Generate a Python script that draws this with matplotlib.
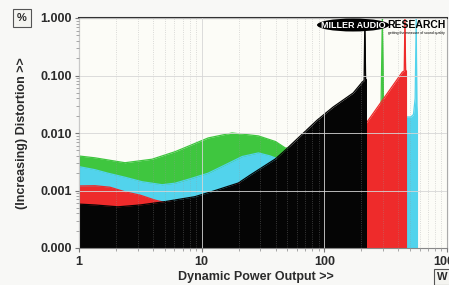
import matplotlib
matplotlib.use('Agg')
import matplotlib.pyplot as plt
from matplotlib.ticker import FixedLocator, FixedFormatter, NullFormatter
from matplotlib.patches import Ellipse

plt.rcParams['font.family'] = ['Liberation Sans', 'DejaVu Sans']

# ---------------- data ----------------
black_x = [1, 1.35, 2.08, 3.15, 5.0, 8.8, 12.9, 19.9, 24.9, 39.8, 46.3, 87.6, 118, 172, 204, 211, 214, 217, 220, 220]
black_y = [0.00058, 0.00056, 0.00052, 0.00056, 0.00064, 0.00078, 0.001, 0.00135, 0.00186, 0.00353, 0.00468,
           0.0168, 0.0283, 0.0497, 0.077, 0.082, 1.0, 0.085, 0.085, 1e-4]

red_x = [1, 1.35, 1.79, 2.37, 3.15, 4.17, 5.0, 10, 50, 150, 219, 220, 433, 448, 454, 460, 467, 467]
red_y = [0.0012, 0.00121, 0.00114, 0.00095, 0.00083, 0.00068, 0.00062, 0.0007, 0.003, 0.012, 0.014,
         0.0149, 0.115, 0.12, 1.0, 0.12, 0.12, 1e-4]

green_x = [1, 1.35, 2.37, 3.94, 6.07, 11.3, 17.7, 29, 40, 48, 100, 200, 290, 297, 304, 400, 465, 465]
green_y = [0.00398, 0.0037, 0.00304, 0.0035, 0.00473, 0.0082, 0.01, 0.0089, 0.0071, 0.0055, 0.005, 0.01,
           0.03, 1.0, 0.03, 0.03, 0.03, 1e-4]

cyan_x = [1, 1.35, 1.72, 2.37, 3.27, 4.76, 6.07, 8.06, 11.3, 15.6, 21.4, 29, 36, 44, 100, 300, 467,
          507, 533, 550, 561, 568, 574, 574]
cyan_y = [0.0026, 0.0023, 0.002, 0.0017, 0.00142, 0.00126, 0.00134, 0.0016, 0.002, 0.0028, 0.0039, 0.0045,
          0.004, 0.0034, 0.005, 0.01, 0.019, 0.019, 0.021, 0.04, 1.0, 0.03, 0.02, 1e-4]

y_ticks = [1e-4, 1e-3, 1e-2, 1e-1, 1.0]
y_tick_labels = ['0.000', '0.001', '0.010', '0.100', '1.000']
x_ticks = [1, 10, 100, 1000]
x_tick_labels = ['1', '10', '100', '1000']

GREEN = '#3fc63f'
CYAN = '#52d3ec'
RED = '#ee2b2b'
BLACK = '#050505'
TXT = '#2b2b2b'

# ---------------- figure ----------------
W, H = 449, 285
fig = plt.figure(figsize=(W / 100, H / 100), dpi=100, facecolor='#f8f8f6')
ax = fig.add_axes([79 / W, 1 - 248 / H, (447 - 79) / W, (248 - 18) / H])
ax.set_facecolor('#fcfcf7')
ax.set_xscale('log')
ax.set_yscale('log')
ax.set_xlim(1, 1000)
ax.set_ylim(1e-4, 1)

for xs, ys, c, z in [(green_x, green_y, GREEN, 1.0), (cyan_x, cyan_y, CYAN, 1.1),
                     (red_x, red_y, RED, 1.2), (black_x, black_y, BLACK, 1.3)]:
    ax.fill_between(xs, 1e-4, ys, color=c, lw=0, zorder=z)
    ax.plot(xs, ys, color=c, lw=0.9, zorder=z, solid_joinstyle='miter')

ax.set_axisbelow(False)
ax.grid(which='major', axis='both', color='#d6d6d6', lw=0.6)
ax.grid(which='minor', axis='x', color='#9a9a9a', lw=0.5, ls=(0, (1.2, 2.0)), alpha=0.55)

ax.yaxis.set_major_locator(FixedLocator(y_ticks))
ax.yaxis.set_major_formatter(FixedFormatter(y_tick_labels))
ax.yaxis.set_minor_formatter(NullFormatter())
ax.xaxis.set_major_locator(FixedLocator(x_ticks))
ax.xaxis.set_major_formatter(FixedFormatter(x_tick_labels))
ax.xaxis.set_minor_formatter(NullFormatter())

ax.tick_params(axis='both', which='major', direction='out', length=3, width=0.8, color='#777777',
               labelsize=9, labelcolor=TXT)
ax.tick_params(axis='both', which='minor', direction='out', length=2, width=0.6, color='#999999')
ax.tick_params(axis='y', which='major', pad=2)
ax.tick_params(axis='x', which='major', pad=3)
for lab in ax.get_xticklabels() + ax.get_yticklabels():
    lab.set_fontweight('bold')

ax.spines['top'].set_color('#333333')
ax.spines['top'].set_linewidth(1.5)
for s in ['left', 'bottom']:
    ax.spines[s].set_color('#888888')
    ax.spines[s].set_linewidth(0.8)
ax.spines['right'].set_color('#aaaaaa')
ax.spines['right'].set_linewidth(0.8)

# axis labels
fig.text(22 / W, 1 - 133 / H, '(Increasing) Distortion >>', rotation=90, ha='center', va='center',
         fontsize=9, fontweight='bold', color=TXT)
fig.text(256 / W, 1 - 277 / H, 'Dynamic Power Output >>', ha='center', va='center',
         fontsize=9, fontweight='bold', color=TXT)

# unit boxes
fig.text(22 / W, 1 - 18 / H, '%', ha='center', va='center', fontsize=8, fontweight='bold', color=TXT,
         bbox=dict(boxstyle='square,pad=0.35', fc='#f4f4f0', ec='#555555', lw=0.8))
fig.text(437 / W, 1 - 277 / H, 'W', ha='left', va='center', fontsize=8, fontweight='bold', color=TXT,
         bbox=dict(boxstyle='square,pad=0.3', fc='#f4f4f0', ec='#555555', lw=0.8))

# logo
ell = Ellipse((353 / W, 1 - 25 / H), 72 / W, 13 / H, transform=fig.transFigure, fc='black', ec='none', zorder=3)
ax.add_patch(ell)
ax.text(353 / W, 1 - 25 / H, 'MILLER AUDIO', transform=fig.transFigure, ha='center', va='center',
        fontsize=6.5, fontweight='bold', color='white', zorder=3.1)
ax.text(387 / W, 1 - 25 / H, 'RESEARCH', transform=fig.transFigure, ha='left', va='center',
        fontsize=7.5, fontweight='bold', color='black', zorder=3.1)
ax.text(416 / W, 1 - 33 / H, 'getting the measure of sound quality', transform=fig.transFigure,
        ha='center', va='center', fontsize=2.5, color='black', zorder=3.1)

fig.savefig('out.png', dpi=100, facecolor=fig.get_facecolor())
